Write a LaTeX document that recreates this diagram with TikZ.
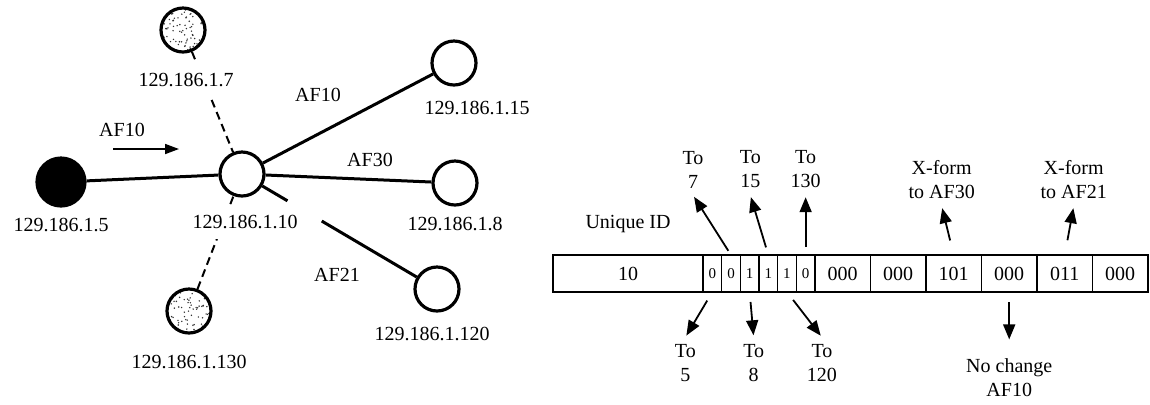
\documentclass[tikz,border=0pt]{standalone}
\usepackage{fontspec}
\setmainfont{Liberation Serif}
\usetikzlibrary{positioning,arrows.meta}

\tikzset{
  host/.style={circle, draw, line width=1.6pt, minimum size=22pt, inner sep=0pt, fill=white},
  src/.style={host, fill=black, minimum size=24pt},
  grp/.style={host, path picture={
      \foreach \k in {1,...,70}
        \fill[black!80] (path picture bounding box.center) ++({rand*10pt},{rand*10pt}) circle (0.4pt);}},
  link/.style={line width=1.5pt},
  leak/.style={line width=1pt, dash pattern=on 4pt off 2.5pt},
  addr/.style={fill=white, inner xsep=1pt, inner ysep=5pt},
  cell/.style={draw, line width=0.8pt, outer sep=0pt, inner sep=0pt, minimum height=18.5pt, anchor=west},
  bit/.style={cell, minimum width=9.33pt, font=\fontsize{7.5}{8}\selectfont},
  blk/.style={cell, minimum width=27.75pt},
  note/.style={align=center},
  ptr/.style={-{Triangle[length=7.5pt,width=6pt]}, line width=0.9pt, shorten <=4pt, shorten >=1pt},
  flow/.style={-{Triangle[length=7pt,width=5pt]}, line width=0.85pt}
}

\begin{document}
\begin{tikzpicture}[on grid, x=1pt, y=1pt]
  \pgfmathsetseed{7}
  \useasboundingbox (0,0) rectangle (575,-202);

  \node[host] (h10) at (121,-87) {};
  \node[src, below left=4pt and 90.5pt of h10] (h5) {};
  \node[grp, above left=72pt and 29.5pt of h10] (h7) {};
  \node[host, above right=55.5pt and 106pt of h10] (h15) {};
  \node[host, below right=4.5pt and 106.5pt of h10] (h8) {};
  \node[host, below right=57.5pt and 97.5pt of h10] (h120) {};
  \node[grp, below left=68.5pt and 26.5pt of h10] (h130) {};

  \draw[link] (h5) -- (h10);
  \draw[link] (h10) -- (h15);
  \draw[link] (h10) -- (h8);
  \draw[link, shorten >=75pt] (h10) -- (h120);
  \draw[link, shorten >=34.5pt] (h120) -- (h10);
  \draw[leak] (h7) -- (h10);
  \draw[leak] (h130) -- (h10);

  \node[addr, below=21.5pt of h5] (l5) {129.186.1.5};
  \node[addr, below right=25pt and 1.5pt of h7] (l7) {129.186.1.7};
  \node[addr, below right=24pt and 1.5pt of h10] (l10) {129.186.1.10};
  \node[addr, below right=22.5pt and 11.5pt of h15] (l15) {129.186.1.15};
  \node[addr, below=20.5pt of h8] (l8) {129.186.1.8};
  \node[addr, below left=22.5pt and 2.5pt of h120] (l120) {129.186.1.120};
  \node[addr, below=25.5pt of h130] (l130) {129.186.1.130};

  \node[above right=39.5pt and 38pt of h10] (e15) {AF10};
  \node[above right=7pt and 64pt of h10] (e8) {AF30};
  \node[below right=50.5pt and 47.5pt of h10] (e120) {AF21};

  \node[above left=22pt and 60pt of h10] (fl) {AF10};
  \coordinate[below left=9.5pt and 4.5pt of fl] (f1);
  \coordinate[right=33pt of f1] (f2);
  \draw[flow] (f1) -- (f2);

  \node[cell, minimum width=75pt] (u) at (276.5,-136.75) {10};
  \node[bit] (c1) at (u.east) {0};
  \node[bit] (c2) at (c1.east) {0};
  \node[bit] (c3) at (c2.east) {1};
  \node[bit] (c4) at (c3.east) {1};
  \node[bit] (c5) at (c4.east) {1};
  \node[bit] (c6) at (c5.east) {0};
  \node[blk] (w1) at (c6.east) {000};
  \node[blk] (w2) at (w1.east) {000};
  \node[blk] (w3) at (w2.east) {101};
  \node[blk] (w4) at (w3.east) {000};
  \node[blk] (w5) at (w4.east) {011};
  \node[blk] (w6) at (w5.east) {000};

  \node[above=25pt of u] (uid) {Unique ID};
  \node[note, above left=52pt and 19pt of c2] (t7) {To\\7};
  \node[note, above left=52pt and 9pt of c4] (t15) {To\\15};
  \node[note, above=52pt of c6] (t130) {To\\130};
  \node[note, above left=46.75pt and 6pt of w3] (x30) {X-form\\to AF30};
  \node[note, above right=46.75pt and 4.5pt of w5] (x21) {X-form\\to AF21};
  \node[note, below left=44.75pt and 13.5pt of c1] (t5) {To\\5};
  \node[note, below right=44.75pt and 2pt of c3] (t8) {To\\8};
  \node[note, below right=44.75pt and 17.5pt of c5] (t120) {To\\120};
  \node[note, below=52pt of w4] (nc) {No change\\AF10};

  \draw[ptr, shorten <=2.5pt] (c2.north) -- (t7.south);
  \draw[ptr] (c4.north) -- (t15.south);
  \draw[ptr] (c6.north) -- (t130.south);
  \draw[ptr, shorten <=7.5pt] (w3.north) -- (x30.south);
  \draw[ptr, shorten <=7.5pt] (w5.north) -- (x21.south);
  \draw[ptr, shorten <=5pt] (c1.south) -- (t5.north);
  \draw[ptr, shorten <=5pt] (c3.south) -- (t8.north);
  \draw[ptr, shorten <=5pt] (c5.south) -- (t120.north);
  \draw[ptr, shorten <=5pt, shorten >=6pt] (w4.south) -- (nc.north);
\end{tikzpicture}
\end{document}
